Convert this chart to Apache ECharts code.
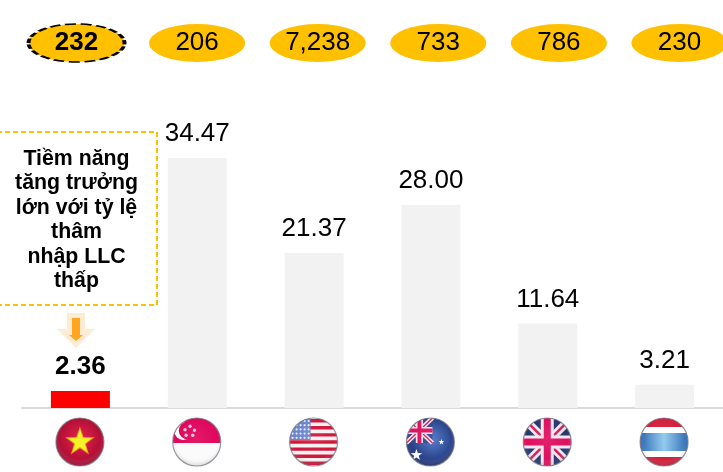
<!DOCTYPE html>
<html>
<head>
<meta charset="utf-8">
<style>
    html, body { margin: 0; padding: 0; background: #fff; overflow: hidden; }
    #chart { width: 723px; height: 472px; }
</style>
<script src="https://cdn.jsdelivr.net/npm/echarts@6/dist/echarts.min.js"></script>
</head>
<body>
<div id="chart"></div>
<script>
const countries = ['Việt Nam', 'Singapore', 'Mỹ', 'Úc', 'Anh', 'Thái Lan']
const flagCodes = ['vn', 'sg', 'us', 'au', 'uk', 'th']
const barValues = [2.36, 34.47, 21.37, 28.00, 11.64, 3.21]
const pillLabels = ['232', '206', '7,238', '733', '786', '230']
const noteText = 'Tiềm năng\ntăng trưởng\nlớn với tỷ lệ\nthâm\nnhập LLC\nthấp'

const font = '"Liberation Sans", Arial, sans-serif'
const R = 24

function rect(x, y, width, height, fill) {
    return { type: 'rect', shape: { x, y, width, height }, style: { fill } }
}

function star(cx, cy, r, fill) {
    let points = []
    for (let i = 0; i < 10; i++) {
        let a = -Math.PI / 2 + i * Math.PI / 5
        let d = i % 2 ? r * 0.4 : r
        points.push([cx + d * Math.cos(a), cy + d * Math.sin(a)])
    }
    return { type: 'polygon', shape: { points }, style: { fill } }
}

function bar(x1, y1, x2, y2, width, stroke) {
    return { type: 'line', shape: { x1, y1, x2, y2 }, style: { stroke, lineWidth: width } }
}

function ukJack(x, y, w, h, k) {
    return [
        bar(x, y, x + w, y + h, 8 * k, '#f4e6ee'),
        bar(x + w, y, x, y + h, 8 * k, '#f4e6ee'),
        bar(x, y, x + w, y + h, 2.5 * k, '#d21f55'),
        bar(x + w, y, x, y + h, 2.5 * k, '#d21f55'),
        bar(x + w / 2, y, x + w / 2, y + h, 13 * k, '#f4e6ee'),
        bar(x, y + h / 2, x + w, y + h / 2, 13 * k, '#f4e6ee'),
        bar(x + w / 2, y, x + w / 2, y + h, 7 * k, '#e0105f'),
        bar(x, y + h / 2, x + w, y + h / 2, 7 * k, '#e0105f')
    ]
}

const flags = {
    vn() {
        return [
            {
                type: 'rect', shape: { x: -R, y: -R, width: 2 * R, height: 2 * R },
                style: {
                    fill: {
                        type: 'radial', x: 0.5, y: 0.45, r: 0.55,
                        colorStops: [{ offset: 0, color: '#e2103c' }, { offset: 1, color: '#a50f34' }]
                    }
                }
            },
            star(0, 0, 15.5, '#e89a1c'),
            star(0, 0, 12.5, '#f7f01a')
        ]
    },
    sg() {
        let items = [
            rect(-R, -R, 2 * R, 2 * R, '#fbfbfb'),
            rect(-R, -R, 2 * R, R + 1, '#e0065c'),
            { type: 'circle', shape: { cx: -13.5, cy: -11, r: 9 }, style: { fill: '#ffffff' } },
            { type: 'circle', shape: { cx: -9, cy: -11.5, r: 9 }, style: { fill: '#e0065c' } }
        ]
        let dots = [[-6.7, -15.7], [-2.3, -11.7], [-4, -6.7], [-10.7, -6.7], [-11.7, -12.3]]
        dots.forEach(d => items.push({ type: 'circle', shape: { cx: d[0], cy: d[1], r: 1.7 }, style: { fill: '#f6c6d8' } }))
        return items
    },
    us() {
        let items = [rect(-R, -R, 2 * R, 2 * R, '#f6f2f2')]
        for (let i = 0; i < 7; i++) {
            items.push(rect(-R, -R + 1 + i * 7.1, 2 * R, 3.4, '#d0163c'))
        }
        items.push(rect(-R, -R, 21, 22, '#6a86cc'))
        for (let row = 0; row < 5; row++) {
            for (let col = 0; col < 5; col++) {
                items.push({
                    type: 'circle',
                    shape: { cx: -R + 3 + col * 4, cy: -R + 3 + row * 4.2, r: 1.1 },
                    style: { fill: '#e6ecfa' }
                })
            }
        }
        return items
    },
    au() {
        return [
            {
                type: 'rect', shape: { x: -R, y: -R, width: 2 * R, height: 2 * R },
                style: {
                    fill: {
                        type: 'radial', x: 0.55, y: 0.45, r: 0.6,
                        colorStops: [{ offset: 0, color: '#4a72c8' }, { offset: 1, color: '#1c2f6e' }]
                    }
                }
            },
            rect(-R, -R, 26, 25, '#33468f'),
            ...ukJack(-R, -R, 26, 25, 0.55),
            star(11, 0, 3, '#ffffff'),
            star(-14, 13, 6, '#ffffff')
        ]
    },
    uk() {
        return [rect(-R, -R, 2 * R, 2 * R, '#27386f'), ...ukJack(-R, -R, 2 * R, 2 * R, 1)]
    },
    th() {
        return [
            rect(-R, -R, 2 * R, 2 * R, '#d21f3c'),
            rect(-R, -15, 2 * R, 30, '#ffffff'),
            {
                type: 'rect', shape: { x: -R, y: -9, width: 2 * R, height: 18 },
                style: {
                    fill: {
                        type: 'linear', x: 0, y: 0, x2: 1, y2: 0,
                        colorStops: [
                            { offset: 0, color: '#2f6ab4' },
                            { offset: 0.5, color: '#8cc8ec' },
                            { offset: 1, color: '#2f6ab4' }
                        ]
                    }
                }
            }
        ]
    }
}

function renderFlag(params, api) {
    let i = api.value(0)
    let c = api.coord([i, 0])
    return {
        type: 'group',
        x: c[0] - 0.5,
        y: c[1] + 34,
        children: [
            {
                type: 'group',
                clipPath: { type: 'circle', shape: { cx: 0, cy: 0, r: R } },
                children: flags[flagCodes[i]]()
            },
            {
                type: 'circle',
                shape: { cx: 0, cy: 0, r: R },
                style: {
                    fill: {
                        type: 'radial', x: 0.5, y: 0.42, r: 0.6,
                        colorStops: [
                            { offset: 0, color: 'rgba(255,255,255,0.08)' },
                            { offset: 0.7, color: 'rgba(255,255,255,0)' },
                            { offset: 1, color: 'rgba(40,40,60,0.25)' }
                        ]
                    },
                    stroke: 'rgba(120,120,130,0.75)',
                    lineWidth: 1.2
                }
            }
        ]
    }
}

let option = {
    animation: false,
    backgroundColor: '#ffffff',
    textStyle: { fontFamily: font },
    grid: [
        { left: 22, right: 0, top: 118, bottom: 64 },
        { left: 22, right: 0, top: 0, height: 86 }
    ],
    xAxis: [
        {
            type: 'category',
            data: countries,
            axisLine: { lineStyle: { color: '#d9d9d9', width: 2 } },
            axisTick: { show: false },
            axisLabel: { show: false }
        },
        {
            // the oval row is spaced wider than the bars and runs off the right edge
            type: 'value',
            gridIndex: 1,
            min: -0.452,
            max: 5.361,
            show: false
        }
    ],
    yAxis: [
        { type: 'value', min: 0, max: 40, show: false },
        { type: 'category', gridIndex: 1, data: ['pill'], show: false }
    ],
    series: [
        {
            type: 'bar',
            barWidth: 59,
            silent: true,
            data: barValues.map((v, i) => ({
                value: v,
                itemStyle: { color: i === 0 ? '#ff0000' : '#f2f2f2' },
                label: { fontWeight: i === 0 ? 'bold' : 'normal' }
            })),
            label: {
                show: true,
                position: 'top',
                distance: 11,
                fontSize: 26,
                fontFamily: font,
                color: '#000000',
                formatter: p => p.value.toFixed(2)
            }
        },
        {
            type: 'scatter',
            xAxisIndex: 1,
            yAxisIndex: 1,
            silent: true,
            clip: false,
            symbol: 'path://M0 1A1 1 0 0 1 2 1A1 1 0 0 1 0 1Z',
            symbolKeepAspect: false,
            symbolSize: [96, 38],
            itemStyle: { color: '#ffc000', opacity: 1 },
            data: pillLabels.map((t, i) => ({
                value: [i, 0],
                name: t,
                itemStyle: i === 0
                    ? { color: '#ffc000', opacity: 1, borderColor: '#000000', borderWidth: 2.5, borderType: [7, 3] }
                    : { color: '#ffc000', opacity: 1 },
                label: { fontWeight: i === 0 ? 'bold' : 'normal' }
            })),
            label: {
                show: true,
                position: 'inside',
                fontSize: 26,
                fontFamily: font,
                color: '#000000',
                formatter: p => p.name
            }
        },
        {
            type: 'custom',
            silent: true,
            clip: false,
            data: flagCodes.map((c, i) => [i, 0]),
            renderItem: renderFlag
        }
    ],
    graphic: [
        {
            type: 'rect',
            silent: true,
            shape: { x: -3, y: 132, width: 160, height: 173 },
            style: { fill: 'none', stroke: '#ffc000', lineWidth: 2, lineDash: [5, 3] }
        },
        {
            type: 'text',
            silent: true,
            x: 76.5,
            y: 147,
            style: {
                text: noteText,
                align: 'center',
                verticalAlign: 'top',
                fontFamily: font,
                fontWeight: 'bold',
                fontSize: 21.3,
                lineHeight: 24.4,
                fill: '#000000'
            }
        },
        {
            type: 'polygon',
            silent: true,
            shape: { points: [[67, 313], [85, 313], [85, 329], [95, 329], [76, 348], [57, 329], [67, 329]] },
            style: { fill: '#fdebd3' }
        },
        {
            type: 'polygon',
            silent: true,
            shape: { points: [[72, 318], [80, 318], [80, 335], [83, 335], [76, 341], [69, 335], [72, 335]] },
            style: { fill: '#ffa51e' }
        }
    ]
}

let chart = window.echarts.init(document.getElementById('chart'))
chart.setOption(option)
</script>
</body>
</html>
